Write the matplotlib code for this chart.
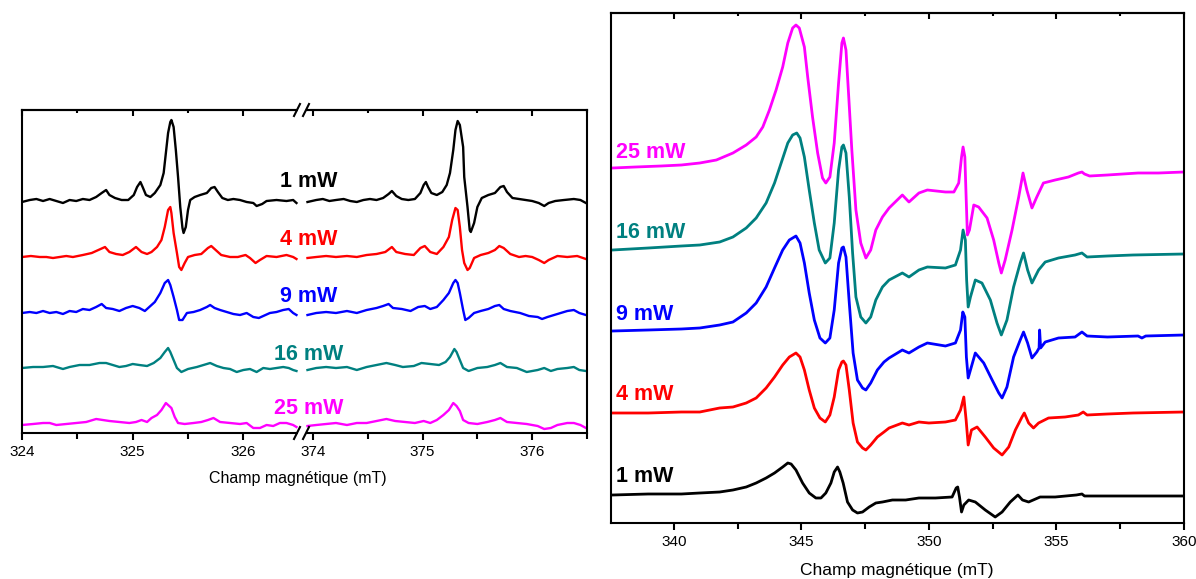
import matplotlib
matplotlib.use("Agg")
import matplotlib.pyplot as plt
from matplotlib.lines import Line2D
from matplotlib.patches import Rectangle

# ---- data (intensity in arbitrary units, traces already offset) ----
labels = ["1 mW", "4 mW", "9 mW", "16 mW", "25 mW"]
colors = ["#000000", "#ff0000", "#0000ff", "#008080", "#ff00ff"]

# left panel, low-field window (324 - 326.5 mT)
lo_x_1mw = [324.00, 324.07, 324.13, 324.19, 324.25, 324.31, 324.37, 324.43, 324.49, 324.55,
            324.61, 324.67, 324.72, 324.76, 324.79, 324.84, 324.90, 324.96, 325.01, 325.04,
            325.07, 325.09, 325.12, 325.16, 325.20, 325.25, 325.28, 325.30, 325.32, 325.34,
            325.35, 325.37, 325.39, 325.41, 325.43, 325.45, 325.46, 325.48, 325.50, 325.52,
            325.56, 325.61, 325.67, 325.71, 325.74, 325.77, 325.81, 325.86, 325.91, 325.97,
            326.03, 326.09, 326.12, 326.17, 326.21, 326.30, 326.39, 326.45, 326.48]
lo_y_1mw = [231, 233, 234, 232, 234, 232, 230, 233, 232, 234, 233, 236, 240, 243, 238, 235, 233, 233, 238, 246,
            251, 246, 238, 236, 240, 248, 260, 280, 300, 311, 313, 306, 283, 256, 226, 205, 200, 206, 223, 233,
            236, 238, 240, 245, 246, 241, 235, 233, 234, 233, 231, 230, 227, 229, 232, 233, 232, 233, 230]
lo_x_4mw = [324.00, 324.08, 324.16, 324.22, 324.28, 324.34, 324.40, 324.46, 324.55, 324.63,
            324.69, 324.75, 324.79, 324.85, 324.91, 324.97, 325.03, 325.08, 325.13, 325.17,
            325.22, 325.26, 325.29, 325.32, 325.34, 325.35, 325.37, 325.40, 325.42, 325.44,
            325.47, 325.50, 325.56, 325.62, 325.68, 325.71, 325.75, 325.80, 325.88, 325.95,
            326.02, 326.06, 326.11, 326.15, 326.21, 326.30, 326.39, 326.45, 326.48]
lo_y_4mw = [176, 177, 176, 176, 175, 176, 177, 176, 178, 180, 183, 186, 181, 179, 178, 181, 186, 181, 179, 181,
            186, 193, 206, 223, 226, 220, 200, 180, 166, 163, 170, 176, 178, 179, 185, 187, 183, 178, 176, 176,
            178, 175, 170, 173, 177, 176, 178, 176, 174]
lo_x_9mw = [324.00, 324.07, 324.13, 324.19, 324.25, 324.31, 324.37, 324.43, 324.49, 324.55,
            324.61, 324.67, 324.72, 324.76, 324.82, 324.88, 324.94, 325.00, 325.06, 325.11,
            325.16, 325.20, 325.25, 325.29, 325.32, 325.34, 325.37, 325.40, 325.42, 325.45,
            325.49, 325.55, 325.61, 325.67, 325.70, 325.74, 325.79, 325.85, 325.91, 325.97,
            326.03, 326.09, 326.14, 326.18, 326.24, 326.30, 326.36, 326.41, 326.45, 326.48]
lo_y_9mw = [120, 121, 120, 122, 120, 121, 119, 122, 121, 124, 123, 126, 129, 125, 124, 122, 125, 127, 125, 122,
            127, 131, 140, 150, 153, 148, 136, 123, 113, 113, 120, 121, 123, 126, 128, 125, 123, 121, 119, 118,
            120, 116, 115, 117, 120, 121, 123, 124, 120, 118]
lo_x_16mw = [324.00, 324.10, 324.19, 324.28, 324.37, 324.43, 324.52, 324.61, 324.70, 324.76,
             324.82, 324.88, 324.94, 325.00, 325.06, 325.13, 325.19, 325.25, 325.29, 325.32,
             325.34, 325.37, 325.40, 325.44, 325.50, 325.58, 325.64, 325.70, 325.76, 325.82,
             325.88, 325.94, 326.00, 326.06, 326.12, 326.18, 326.24, 326.30, 326.36, 326.41,
             326.45, 326.48]
lo_y_16mw = [65, 66, 66, 67, 64, 66, 68, 68, 70, 70, 68, 66, 67, 69, 68, 67, 70, 75, 81, 85,
             81, 73, 65, 61, 64, 66, 68, 70, 67, 65, 64, 61, 63, 64, 61, 65, 64, 65, 66, 65, 63, 62]
lo_x_25mw = [324.00, 324.10, 324.19, 324.25, 324.31, 324.40, 324.49, 324.58, 324.67, 324.73,
             324.79, 324.88, 324.97, 325.03, 325.08, 325.13, 325.17, 325.22, 325.26, 325.30,
             325.32, 325.35, 325.38, 325.41, 325.47, 325.55, 325.62, 325.68, 325.73, 325.79,
             325.88, 325.97, 326.03, 326.09, 326.15, 326.21, 326.27, 326.33, 326.39, 326.45, 326.48]
lo_y_25mw = [8, 9, 10, 10, 8, 9, 10, 11, 14, 13, 12, 11, 10, 11, 13, 11, 15, 18, 23, 30,
             28, 25, 16, 10, 9, 10, 11, 13, 15, 11, 10, 9, 10, 5, 5, 8, 7, 10, 10, 8, 6]

# left panel, high-field window (374 - 376.5 mT)
hi_x_1mw = [373.95, 374.03, 374.09, 374.15, 374.21, 374.28, 374.34, 374.40, 374.46, 374.52,
            374.58, 374.64, 374.69, 374.72, 374.76, 374.81, 374.87, 374.93, 374.98, 375.01,
            375.03, 375.05, 375.08, 375.13, 375.18, 375.22, 375.25, 375.28, 375.30, 375.32,
            375.34, 375.37, 375.38, 375.41, 375.43, 375.44, 375.47, 375.50, 375.54, 375.60,
            375.66, 375.71, 375.74, 375.77, 375.82, 375.88, 375.94, 376.00, 376.06, 376.11,
            376.15, 376.21, 376.29, 376.38, 376.44, 376.49]
hi_y_1mw = [231, 233, 234, 232, 233, 234, 232, 231, 233, 234, 233, 235, 239, 242, 237, 234, 233, 234, 240, 248,
            251, 246, 240, 238, 241, 248, 260, 283, 303, 312, 308, 286, 256, 226, 203, 201, 210, 226, 235, 238,
            240, 246, 247, 241, 235, 234, 233, 232, 230, 227, 230, 232, 233, 234, 233, 230]
hi_x_4mw = [373.95, 374.03, 374.12, 374.21, 374.31, 374.40, 374.49, 374.58, 374.66, 374.72,
            374.76, 374.84, 374.92, 374.98, 375.02, 375.07, 375.13, 375.19, 375.24, 375.27,
            375.30, 375.32, 375.34, 375.36, 375.38, 375.41, 375.43, 375.47, 375.53, 375.60,
            375.66, 375.70, 375.74, 375.80, 375.88, 375.94, 376.00, 376.06, 376.11, 376.15,
            376.23, 376.32, 376.41, 376.49]
hi_y_4mw = [175, 176, 177, 176, 177, 176, 178, 179, 181, 186, 181, 179, 178, 185, 187, 181, 179, 186, 196, 213,
            225, 223, 206, 183, 170, 163, 165, 175, 178, 180, 183, 187, 185, 179, 176, 177, 176, 173, 170, 173,
            177, 176, 177, 174]
hi_x_9mw = [373.95, 374.03, 374.12, 374.21, 374.31, 374.40, 374.49, 374.58, 374.64, 374.69,
            374.73, 374.81, 374.89, 374.96, 375.02, 375.07, 375.13, 375.19, 375.24, 375.28,
            375.30, 375.32, 375.34, 375.37, 375.39, 375.42, 375.47, 375.53, 375.60, 375.66,
            375.70, 375.74, 375.80, 375.89, 375.97, 376.05, 376.09, 376.14, 376.20, 376.26,
            376.32, 376.38, 376.43, 376.49]
hi_y_9mw = [118, 120, 121, 120, 122, 120, 123, 125, 127, 129, 125, 124, 122, 126, 127, 124, 126, 133, 140, 150,
            153, 150, 140, 123, 113, 115, 120, 122, 124, 127, 128, 124, 122, 120, 117, 116, 114, 116, 118, 120,
            122, 123, 120, 118]
hi_x_16mw = [373.95, 374.03, 374.12, 374.21, 374.31, 374.40, 374.49, 374.58, 374.67, 374.75,
             374.82, 374.92, 374.99, 375.07, 375.15, 375.21, 375.25, 375.29, 375.31, 375.34,
             375.37, 375.42, 375.50, 375.59, 375.66, 375.71, 375.77, 375.86, 375.95, 376.05,
             376.11, 376.17, 376.23, 376.32, 376.38, 376.43, 376.49]
hi_y_16mw = [63, 65, 66, 65, 66, 63, 66, 68, 70, 68, 66, 67, 70, 69, 68, 71, 76, 84, 81, 73,
             65, 62, 65, 66, 68, 70, 66, 65, 61, 63, 65, 62, 64, 65, 66, 63, 62]
hi_x_25mw = [373.95, 374.03, 374.12, 374.21, 374.31, 374.40, 374.49, 374.58, 374.67, 374.75,
             374.84, 374.93, 375.01, 375.07, 375.13, 375.19, 375.24, 375.28, 375.31, 375.34,
             375.37, 375.42, 375.50, 375.59, 375.66, 375.71, 375.77, 375.86, 375.95, 376.05,
             376.11, 376.17, 376.23, 376.32, 376.38, 376.44, 376.49]
hi_y_25mw = [7, 8, 9, 10, 8, 10, 10, 12, 14, 12, 11, 10, 12, 10, 13, 18, 23, 30, 27, 22,
             13, 10, 9, 11, 13, 15, 11, 10, 9, 7, 4, 5, 8, 10, 10, 8, 5]

# right panel (338 - 360 mT)
r_x_1mw = [337.6, 339.0, 340.3, 341.02, 341.80, 342.32, 342.84, 343.23, 343.62, 343.95,
           344.27, 344.47, 344.60, 344.79, 345.05, 345.31, 345.57, 345.77, 345.96, 346.16,
           346.29, 346.42, 346.51, 346.64, 346.81, 347.01, 347.20, 347.40, 347.66, 347.92,
           348.18, 348.57, 349.09, 349.61, 350.26, 350.91, 351.07, 351.13, 351.20, 351.28,
           351.37, 351.56, 351.82, 352.21, 352.60, 352.87, 353.19, 353.49, 353.67, 353.91,
           354.36, 354.95, 355.78, 356.0, 356.1, 357.0, 358.0, 360.0]
r_y_1mw = [28, 29, 29, 30, 31, 33, 36, 40, 45, 50, 56, 60, 59, 53, 40, 30, 25, 25, 30, 40,
           51, 56, 51, 40, 21, 13, 10, 11, 16, 20, 21, 23, 23, 25, 25, 26, 35, 36, 26, 11,
           18, 23, 21, 13, 6, 11, 21, 28, 23, 21, 26, 26, 28, 29, 27, 27, 27, 27]
r_x_4mw = [337.6, 339.0, 340.3, 341.02, 341.80, 342.32, 342.84, 343.23, 343.62, 343.95,
           344.27, 344.53, 344.79, 344.95, 345.12, 345.31, 345.51, 345.73, 345.94, 346.12,
           346.29, 346.46, 346.59, 346.65, 346.75, 346.88, 347.03, 347.20, 347.40, 347.53,
           347.72, 347.98, 348.24, 348.44, 348.96, 349.22, 349.61, 350.0, 350.65, 351.04,
           351.24, 351.37, 351.46, 351.54, 351.67, 351.89, 352.21, 352.54, 352.87, 353.13,
           353.39, 353.65, 353.74, 353.91, 354.10, 354.30, 354.69, 355.34, 355.86, 356.05,
           356.2, 357.0, 358.0, 360.0]
r_y_4mw = [110, 110, 111, 111, 115, 116, 120, 125, 135, 146, 158, 166, 170, 166, 153, 133, 115, 105, 101, 108,
           126, 153, 161, 162, 158, 133, 100, 81, 75, 73, 78, 86, 91, 95, 100, 98, 101, 100, 101, 103,
           113, 126, 103, 78, 93, 96, 86, 75, 68, 76, 93, 106, 110, 100, 95, 100, 105, 106, 108, 111,
           108, 109, 110, 111]
r_x_9mw = [337.6, 339.0, 340.3, 341.02, 341.80, 342.32, 342.84, 343.23, 343.62, 343.95,
           344.27, 344.53, 344.79, 344.95, 345.12, 345.31, 345.51, 345.73, 345.94, 346.12,
           346.29, 346.46, 346.59, 346.65, 346.75, 346.88, 347.03, 347.20, 347.40, 347.53,
           347.72, 347.98, 348.24, 348.44, 348.96, 349.22, 349.61, 349.94, 350.65, 351.04,
           351.24, 351.33, 351.41, 351.47, 351.54, 351.63, 351.82, 352.15, 352.48, 352.74,
           352.87, 353.06, 353.32, 353.58, 353.71, 353.87, 354.04, 354.23, 354.32, 354.34,
           354.38, 354.56, 355.08, 355.73, 356.0, 356.2, 357.0, 358.2, 358.35, 358.5, 360.0]
r_y_9mw = [192, 193, 194, 195, 198, 201, 210, 220, 236, 255, 273, 283, 287, 280, 260, 230, 203, 185, 180, 185,
           213, 260, 275, 276, 266, 220, 170, 143, 135, 133, 140, 153, 161, 165, 173, 170, 176, 180, 177, 180,
           193, 211, 206, 166, 145, 153, 170, 160, 143, 130, 125, 136, 166, 183, 191, 180, 165, 171, 175, 193,
           175, 181, 185, 186, 191, 187, 186, 187, 185, 187, 188]
r_x_16mw = [337.6, 339.0, 340.3, 341.02, 341.80, 342.32, 342.84, 343.23, 343.62, 343.95,
            344.21, 344.47, 344.66, 344.82, 344.95, 345.12, 345.31, 345.51, 345.70, 345.94,
            346.12, 346.29, 346.46, 346.59, 346.65, 346.75, 346.88, 347.01, 347.14, 347.33,
            347.53, 347.72, 347.92, 348.18, 348.44, 348.96, 349.22, 349.61, 349.94, 350.65,
            351.04, 351.24, 351.34, 351.43, 351.48, 351.54, 351.63, 351.82, 352.08, 352.41,
            352.67, 352.84, 353.06, 353.32, 353.58, 353.71, 353.87, 354.04, 354.30, 354.56,
            355.08, 355.73, 356.0, 356.2, 357.0, 358.0, 360.0]
r_y_16mw = [273, 275, 277, 278, 281, 286, 295, 305, 320, 340, 360, 380, 388, 390, 385, 366, 333, 300, 273, 260,
            265, 300, 353, 376, 378, 370, 326, 270, 226, 206, 200, 206, 223, 236, 243, 250, 246, 253, 256, 255,
            258, 273, 293, 283, 243, 216, 226, 243, 240, 223, 200, 188, 203, 236, 260, 270, 253, 240, 253, 261,
            265, 268, 270, 266, 267, 268, 269]
r_x_25mw = [337.6, 338.5, 339.5, 340.3, 341.02, 341.67, 342.32, 342.84, 343.23, 343.49,
            343.75, 344.01, 344.27, 344.47, 344.66, 344.79, 344.92, 345.12, 345.25, 345.44,
            345.64, 345.83, 345.96, 346.12, 346.29, 346.46, 346.59, 346.65, 346.75, 346.85,
            346.98, 347.14, 347.33, 347.53, 347.72, 347.92, 348.18, 348.44, 348.96, 349.22,
            349.61, 349.94, 350.65, 350.98, 351.17, 351.28, 351.34, 351.41, 351.46, 351.51,
            351.59, 351.76, 351.95, 352.28, 352.54, 352.74, 352.84, 352.99, 353.26, 353.52,
            353.69, 353.84, 354.04, 354.23, 354.49, 354.95, 355.47, 355.86, 356.0, 356.1,
            356.3, 357.0, 358.2, 359.0, 360.0]
r_y_25mw = [355, 356, 357, 358, 360, 363, 370, 378, 386, 396, 413, 433, 456, 480, 495, 498, 495, 476, 446, 406,
            370, 345, 340, 346, 380, 440, 480, 485, 473, 430, 373, 313, 280, 265, 273, 293, 306, 315, 328, 321,
            330, 333, 331, 331, 340, 366, 376, 366, 326, 288, 293, 318, 316, 305, 283, 260, 250, 263, 293, 326,
            350, 333, 315, 326, 340, 343, 346, 350, 351, 349, 347, 348, 350, 350, 351]

lo_x = [lo_x_1mw, lo_x_4mw, lo_x_9mw, lo_x_16mw, lo_x_25mw]
lo_y = [lo_y_1mw, lo_y_4mw, lo_y_9mw, lo_y_16mw, lo_y_25mw]
hi_x = [hi_x_1mw, hi_x_4mw, hi_x_9mw, hi_x_16mw, hi_x_25mw]
hi_y = [hi_y_1mw, hi_y_4mw, hi_y_9mw, hi_y_16mw, hi_y_25mw]
r_x = [r_x_1mw, r_x_4mw, r_x_9mw, r_x_16mw, r_x_25mw]
r_y = [r_y_1mw, r_y_4mw, r_y_9mw, r_y_16mw, r_y_25mw]

# label positions
left_label_ypx = [182, 240, 297, 355, 408]   # figure pixels, centred at x=309
right_label_y = [46, 128, 209, 290, 371]     # data units of right panel

plt.rcParams['font.family'] = ['Liberation Sans', 'DejaVu Sans']

W, H = 1196, 579
fig = plt.figure(figsize=(W / 100, H / 100), dpi=100)


def px_box(x0, y0, x1, y1):
    return [x0 / W, 1 - y1 / H, (x1 - x0) / W, (y1 - y0) / H]


def style(ax, major, minor, bot_len=(5, 4), top_len=(4, 2.2)):
    ax.set_yticks([])
    ax.set_xticks(major)
    ax.set_xticks(minor, minor=True)
    ax.set_xticklabels([str(m) for m in major])
    ax.tick_params(axis='x', which='major', direction='out', length=bot_len[0], width=1.5,
                   labelsize=11, pad=4)
    ax.tick_params(axis='x', which='minor', direction='out', length=bot_len[1], width=1.5)
    for s in ax.spines.values():
        s.set_linewidth(1.5)
    top = ax.secondary_xaxis('top')
    top.set_xticks(major)
    top.set_xticks(minor, minor=True)
    top.tick_params(axis='x', which='major', direction='in', length=top_len[0], width=1.5,
                    labeltop=False)
    top.tick_params(axis='x', which='minor', direction='in', length=top_len[1], width=1.5)
    top.spines['top'].set_linewidth(1.5)


ax_lo = fig.add_axes(px_box(22, 110, 302, 433))
ax_hi = fig.add_axes(px_box(302, 110, 587, 433))
ax_r = fig.add_axes(px_box(611, 13, 1184, 523))

for i in range(5):
    ax_lo.plot(lo_x[i], lo_y[i], color=colors[i], lw=1.7)
    ax_hi.plot(hi_x[i], hi_y[i], color=colors[i], lw=1.7)
    ax_r.plot(r_x[i], r_y[i], color=colors[i], lw=2.0)

ax_lo.set_xlim(324, 326.53)
ax_hi.set_xlim(373.9, 376.5)
for a in (ax_lo, ax_hi):
    a.set_ylim(0, 323)
ax_r.set_xlim(337.54, 360)
ax_r.set_ylim(0, 510)

style(ax_lo, [324, 325, 326], [324.5, 325.5])
style(ax_hi, [374, 375, 376], [374.5, 375.5, 376.5])
style(ax_r, [340, 345, 350, 355, 360], [342.5, 347.5, 352.5, 357.5], bot_len=(5, 4.5), top_len=(4.5, 2.5))
ax_lo.spines['right'].set_visible(False)
ax_hi.spines['left'].set_visible(False)

# axis break marks "//"
for ypx in (110, 433):
    fig.add_artist(Rectangle((298 / W, 1 - (ypx + 4) / H), 8 / W, 8 / H, transform=fig.transFigure,
                             facecolor='white', edgecolor='none', zorder=10))
    for xpx in (297, 306):
        fig.add_artist(Line2D([(xpx - 3) / W, (xpx + 3) / W], [1 - (ypx + 6) / H, 1 - (ypx - 6) / H],
                              transform=fig.transFigure, color='black', lw=1.5, zorder=11))

# power labels
for i in range(5):
    fig.text(309 / W, 1 - left_label_ypx[i] / H, labels[i], color=colors[i], fontsize=15.5,
             fontweight='bold', ha='center', va='center')
    ax_r.text(337.72, right_label_y[i], labels[i], color=colors[i], fontsize=15.5,
              fontweight='bold', ha='left', va='center')

fig.text(298 / W, 1 - 478 / H, 'Champ magnétique (mT)', fontsize=11.5, ha='center', va='center')
fig.text(897 / W, 1 - 571 / H, 'Champ magnétique (mT)', fontsize=12.5, ha='center', va='center')

fig.savefig('out.png', dpi=100)
